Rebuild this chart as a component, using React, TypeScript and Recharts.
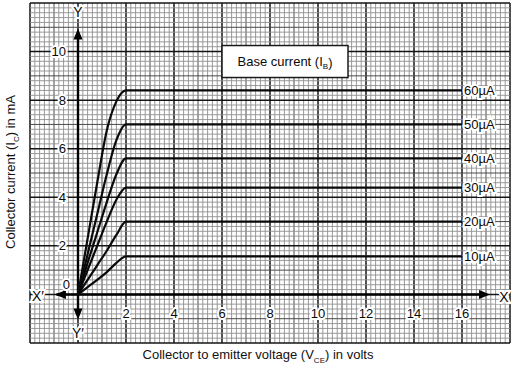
import React from 'react';
import {
  ComposedChart,
  Line,
  XAxis,
  YAxis,
  ReferenceLine,
  ReferenceDot,
} from 'recharts';

// Collector-emitter voltage samples (V)
const vce = [0, 0.4, 0.8, 1.2, 1.6, 2, 16];

// Collector current (mA) for each base current
const ic10 = [0, 0.3, 0.6, 0.92, 1.3, 1.57, 1.57];
const ic20 = [0, 0.6, 1.2, 1.8, 2.45, 3.0, 3.0];
const ic30 = [0, 1.0, 2.0, 3.0, 3.9, 4.4, 4.4];
const ic40 = [0, 1.3, 2.55, 3.8, 4.95, 5.6, 5.6];
const ic50 = [0, 1.65, 3.3, 4.95, 6.35, 7.0, 7.0];
const ic60 = [0, 2.3, 4.6, 6.75, 7.95, 8.4, 8.4];

const baseLabels = ['10µA', '20µA', '30µA', '40µA', '50µA', '60µA'];
const seriesValues = [ic10, ic20, ic30, ic40, ic50, ic60];

const xTicks = [2, 4, 6, 8, 10, 12, 14, 16];
const yTicks = [2, 4, 6, 8, 10];

const X_MIN = -2;
const X_MAX = 18;
const Y_MIN = -2;
const Y_MAX = 12;

const FONT = '"Liberation Sans", Arial, sans-serif';

// graph paper: a line every 0.2 unit, darker every 1, darkest every 2
const gridLines = (min: number, max: number) =>
  Array.from({ length: Math.round((max - min) / 0.2) + 1 }, (_, i) => ({
    v: Math.round((min + i * 0.2) * 10) / 10,
    kind: i % 10 === 0 ? 'major' : i % 5 === 0 ? 'mid' : 'minor',
  }));

const xGrid = gridLines(X_MIN, X_MAX);
const yGrid = gridLines(Y_MIN, Y_MAX);

const gridStyle: Record<string, { stroke: string; strokeWidth: number }> = {
  minor: { stroke: '#8e8e8e', strokeWidth: 0.9 },
  mid: { stroke: '#4a4a4a', strokeWidth: 1 },
  major: { stroke: '#151515', strokeWidth: 1.5 },
};

const series = baseLabels.map((label, s) => ({
  label,
  points: vce.map((v, i) => ({ v, ic: seriesValues[s][i] })),
}));

const textShape =
  (text: React.ReactNode, dx: number, dy: number, anchor: string, size = 13, halo = false) =>
  (p: any) =>
    (
      <text
        x={p.cx + dx}
        y={p.cy + dy}
        textAnchor={anchor}
        dominantBaseline="central"
        fontFamily={FONT}
        fontSize={size}
        fill="#0a0a0a"
        stroke={halo ? '#fff' : 'none'}
        strokeWidth={halo ? 4 : 0}
        paintOrder="stroke"
      >
        {text}
      </text>
    );

const arrow = (dir: 'up' | 'down' | 'left' | 'right') => (p: any) => {
  const { cx, cy } = p;
  const L = 11;
  const W = 4.5;
  let pts = '';
  if (dir === 'right') pts = `${cx},${cy} ${cx - L},${cy - W} ${cx - L},${cy + W}`;
  if (dir === 'left') pts = `${cx},${cy} ${cx + L},${cy - W} ${cx + L},${cy + W}`;
  if (dir === 'up') pts = `${cx},${cy} ${cx - W},${cy + L} ${cx + W},${cy + L}`;
  if (dir === 'down') pts = `${cx},${cy} ${cx - W},${cy - L} ${cx + W},${cy - L}`;
  return <polygon points={pts} fill="#000" />;
};

// legend box "Base current (I_B)", centred on its anchor point
const BaseBox = (p: any) => (
  <g>
    <rect
      x={p.cx - 63}
      y={p.cy - 16}
      width={126}
      height={32}
      fill="#fff"
      stroke="#1a1a1a"
      strokeWidth={1.5}
    />
    <text
      x={p.cx}
      y={p.cy}
      textAnchor="middle"
      dominantBaseline="central"
      fontFamily={FONT}
      fontSize={13}
      fill="#0a0a0a"
    >
      Base current (I
      <tspan fontSize={8} dy={4}>
        B
      </tspan>
      <tspan dy={-4}>)</tspan>
    </text>
  </g>
);

export default function App() {
  return (
    <div
      style={{
        position: 'absolute',
        left: 0,
        top: 0,
        width: 520,
        height: 372,
        background: '#fff',
        fontFamily: FONT,
      }}
    >
      <ComposedChart
        width={520}
        height={372}
        margin={{ top: 3, right: 10, left: 30, bottom: 29 }}
      >
        <XAxis
          type="number"
          dataKey="v"
          domain={[X_MIN, X_MAX]}
          allowDataOverflow
          hide
        />
        <YAxis type="number" domain={[Y_MIN, Y_MAX]} allowDataOverflow hide />

        {/* graph paper, lightest first */}
        {['minor', 'mid', 'major'].map((kind) =>
          xGrid
            .filter((g) => g.kind === kind)
            .map((g) => (
              <ReferenceLine key={`gx-${g.v}`} x={g.v} {...gridStyle[kind]} />
            ))
        )}
        {['minor', 'mid', 'major'].map((kind) =>
          yGrid
            .filter((g) => g.kind === kind)
            .map((g) => (
              <ReferenceLine key={`gy-${g.v}`} y={g.v} {...gridStyle[kind]} />
            ))
        )}

        {/* X'X and Y'Y axes */}
        <ReferenceLine
          segment={[
            { x: -0.9, y: 0 },
            { x: 17.0, y: 0 },
          ]}
          stroke="#000"
          strokeWidth={2.4}
        />
        <ReferenceLine
          segment={[
            { x: 0, y: -0.9 },
            { x: 0, y: 10.8 },
          ]}
          stroke="#000"
          strokeWidth={2.4}
        />
        <ReferenceDot x={17.17} y={0} r={0} shape={arrow('right')} />
        <ReferenceDot x={-0.96} y={0} r={0} shape={arrow('left')} />
        <ReferenceDot x={0} y={10.95} r={0} shape={arrow('up')} />
        <ReferenceDot x={0} y={-1.03} r={0} shape={arrow('down')} />

        {/* characteristic curves */}
        {series.map((s) => (
          <Line
            key={s.label}
            data={s.points}
            dataKey="ic"
            type="monotone"
            stroke="#0a0a0a"
            strokeWidth={2.2}
            dot={false}
            activeDot={false}
            isAnimationActive={false}
          />
        ))}

        {/* curve labels */}
        {series.map((s) => (
          <ReferenceDot
            key={`lab-${s.label}`}
            x={16}
            y={s.points[s.points.length - 1].ic}
            r={0}
            shape={textShape(s.label, 2, 0, 'start', 13, true)}
          />
        ))}

        {/* tick labels */}
        {yTicks.map((t) => (
          <ReferenceDot
            key={`yt-${t}`}
            x={0}
            y={t}
            r={0}
            shape={textShape(String(t), -12, 0, 'end', 13, true)}
          />
        ))}
        {xTicks.map((t) => (
          <ReferenceDot
            key={`xt-${t}`}
            x={t}
            y={0}
            r={0}
            shape={textShape(String(t), 0, 19, 'middle', 13, true)}
          />
        ))}
        <ReferenceDot x={0} y={0} r={0} shape={textShape('0', -8, -10, 'end', 13, true)} />

        {/* axis letters */}
        <ReferenceDot x={0} y={11.63} r={0} shape={textShape('Y', 0, 0, 'middle', 14, true)} />
        <ReferenceDot x={0} y={-1.59} r={0} shape={textShape('Y′', 0, 0, 'middle', 14, true)} />
        <ReferenceDot x={-1.67} y={-0.08} r={0} shape={textShape('X′', 0, 0, 'middle', 14, true)} />
        <ReferenceDot x={17.75} y={-0.12} r={0} shape={textShape('X', 0, 0, 'middle', 14, true)} />

        {/* legend box */}
        <ReferenceDot x={8.625} y={9.59} r={0} shape={BaseBox} />
      </ComposedChart>

      <div
        style={{
          position: 'absolute',
          left: 12,
          top: 172,
          transform: 'translate(-50%, -50%) rotate(-90deg)',
          whiteSpace: 'nowrap',
          fontSize: 13,
          color: '#111',
        }}
      >
        Collector current (I<sub style={{ fontSize: 8 }}>C</sub>) in mA
      </div>
      <div
        style={{
          position: 'absolute',
          left: 258,
          top: 356,
          transform: 'translate(-50%, -50%)',
          whiteSpace: 'nowrap',
          fontSize: 13,
          color: '#111',
        }}
      >
        Collector to emitter voltage (V<sub style={{ fontSize: 8 }}>CE</sub>) in volts
      </div>
    </div>
  );
}
